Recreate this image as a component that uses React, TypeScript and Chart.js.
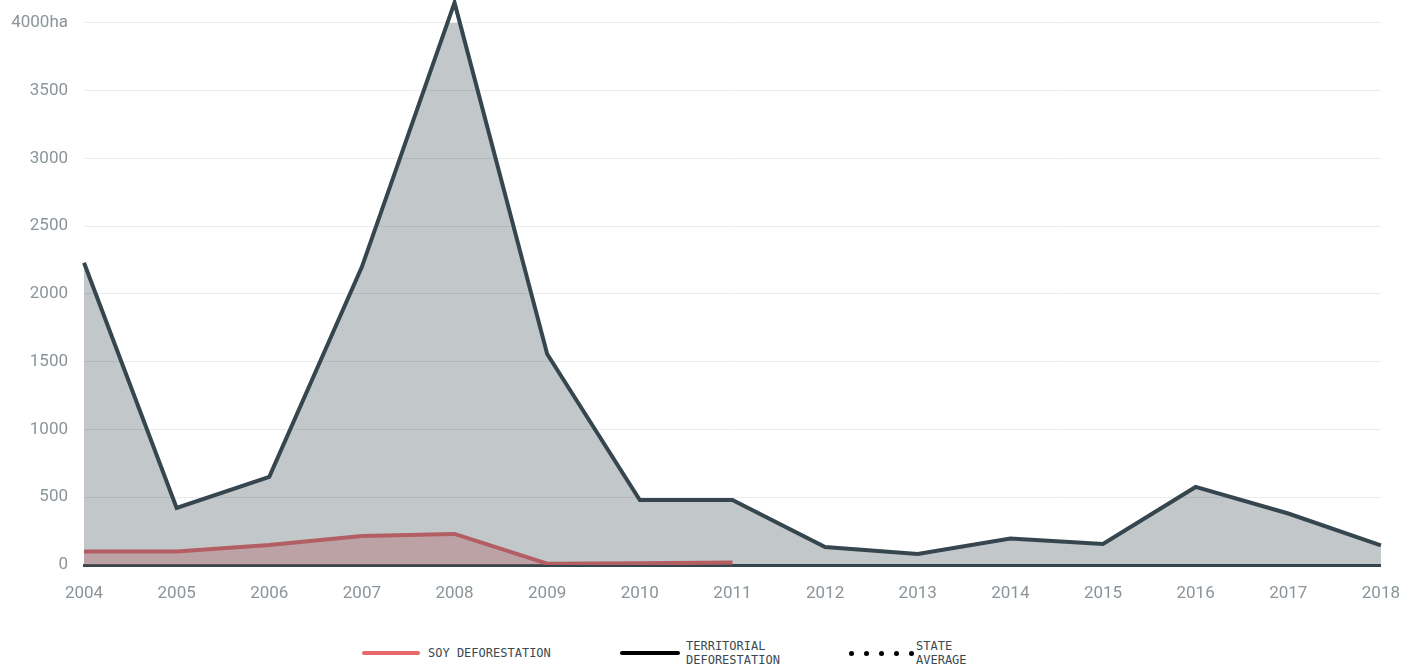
import React, { useEffect, useRef } from "react";
import { Chart, registerables } from "chart.js";

Chart.register(...registerables);

const years = ["2004","2005","2006","2007","2008","2009","2010","2011","2012","2013","2014","2015","2016","2017","2018"];
const territorial = [2230, 421, 650, 2200, 4150, 1557, 480, 480, 133, 81, 195, 155, 576, 380, 145];
const soy: (number | null)[] = [100, 100, 148, 214, 229, 10, 12, 18, null, null, null, null, null, null, null];
const yTicks = [0, 500, 1000, 1500, 2000, 2500, 3000, 3500, 4000];

const DARK = "#36464f";
const RED = "#e8696b";
const GREY_TEXT = "#8b9499";

export default function App() {
  const ref = useRef<HTMLCanvasElement | null>(null);
  useEffect(() => {
    if (!ref.current) return;
    const chart = new Chart(ref.current, {
      type: "line",
      data: {
        labels: years,
        datasets: [
          {
            label: "TERRITORIAL DEFORESTATION",
            data: territorial,
            borderColor: DARK,
            backgroundColor: "rgba(54,70,79,0.3)",
            borderWidth: 4,
            fill: "origin",
            pointRadius: 0,
            tension: 0,
            clip: false as any,
          },
          {
            label: "SOY DEFORESTATION",
            data: soy,
            borderColor: RED,
            backgroundColor: "rgba(232,105,107,0.35)",
            borderWidth: 4,
            fill: "origin",
            pointRadius: 0,
            tension: 0,
            spanGaps: false,
          },
        ],
      },
      options: {
        responsive: false,
        animation: false,
        layout: { padding: { top: 0, right: 38, left: 0, bottom: 0 } },
        plugins: { legend: { display: false }, tooltip: { enabled: false } },
        scales: {
          x: {
            offset: false,
            grid: { display: false, drawTicks: false },
            border: { display: true, color: DARK, width: 3 },
            ticks: {
              color: GREY_TEXT,
              font: { family: "Roboto", size: 17 },
              padding: 19,
              maxRotation: 0,
              autoSkip: false,
            },
            afterFit: (s: any) => { s.height = 55; },
          },
          y: {
            min: 0,
            max: 4000,
            afterBuildTicks: (s: any) => { s.ticks = yTicks.map((v) => ({ value: v })); },
            grid: { color: "#e9ebec", lineWidth: 1, drawTicks: false },
            border: { display: false },
            ticks: {
              color: GREY_TEXT,
              font: { family: "Roboto", size: 17, lineHeight: 0.82 },
              padding: 16,
              callback: (v: any) => (Number(v) === 4000 ? "4000ha" : String(v)),
            },
            afterFit: (s: any) => { s.width = 84; },
          },
        },
      },
    });
    return () => chart.destroy();
  }, []);

  const legendText: React.CSSProperties = {
    position: "absolute",
    fontFamily: "'DejaVu Sans Mono', monospace",
    fontSize: 12,
    lineHeight: "14px",
    color: "#3a4a52",
    whiteSpace: "nowrap",
  };
  const dots = [0, 1, 2, 3, 4];

  return (
    <div style={{ position: "absolute", left: 0, top: 0, width: 1419, height: 666, background: "#fff", overflow: "hidden" }}>
      <canvas ref={ref} width={1419} height={620} style={{ display: "block", width: 1419, height: 620 }} />
      <div style={{ position: "absolute", left: 362, top: 651, width: 58, height: 4, borderRadius: 2, background: RED }} />
      <div style={{ ...legendText, left: 428, top: 646 }}>SOY DEFORESTATION</div>
      <div style={{ position: "absolute", left: 620, top: 651, width: 60, height: 4, borderRadius: 2, background: "#000" }} />
      <div style={{ ...legendText, left: 686, top: 639 }}>TERRITORIAL<br />DEFORESTATION</div>
      {dots.map((i) => (
        <div key={i} style={{ position: "absolute", left: 849 + i * 15, top: 651, width: 5, height: 5, borderRadius: 3, background: "#000" }} />
      ))}
      <div style={{ ...legendText, left: 916, top: 639 }}>STATE<br />AVERAGE</div>
    </div>
  );
}
